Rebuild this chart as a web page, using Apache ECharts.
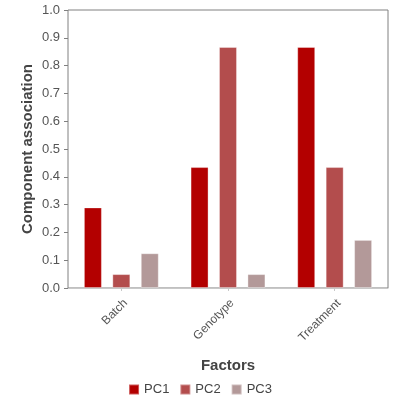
<!DOCTYPE html>
<html><head><meta charset="utf-8">
<script src="https://cdn.jsdelivr.net/npm/echarts@6/dist/echarts.min.js"></script>
<style>html,body{margin:0;padding:0;background:#fff}#c{width:400px;height:400px}</style>
</head><body><div id="c"></div>
<script>
const categories = ['Batch', 'Genotype', 'Treatment'];
const seriesNames = ['PC1', 'PC2', 'PC3'];
const pc1 = [0.29, 0.435, 0.867];
const pc2 = [0.05, 0.867, 0.435];
const pc3 = [0.125, 0.05, 0.173];
const colors = ['#b30000', '#b34d4d', '#b39999'];
const yTicks = [0, 0.1, 0.2, 0.3, 0.4, 0.5, 0.6, 0.7, 0.8, 0.9, 1.0];

const font = 'Liberation Sans, Arial, sans-serif';
const chart = echarts.init(document.getElementById('c'), null, {renderer: 'canvas'});
const values = [pc1, pc2, pc3];
chart.setOption({
  animation: false,
  textStyle: {fontFamily: font},
  color: colors,
  grid: {left: 68, right: 12, top: 10, bottom: 112, show: true, borderColor: '#808080', borderWidth: 1, containLabel: false},
  legend: {
    bottom: 4, left: 'center', padding: 0, itemWidth: 10, itemHeight: 10, itemGap: 10, icon: 'rect',
    textStyle: {fontSize: 13, color: '#444', fontFamily: font},
    data: seriesNames
  },
  xAxis: {
    type: 'category', data: categories, offset: 4,
    axisLine: {show: true, lineStyle: {color: '#c8c8c8', width: 1}},
    axisTick: {show: true, alignWithLabel: true, length: 3, lineStyle: {color: '#c8c8c8'}},
    axisLabel: {rotate: 45, fontSize: 12, color: '#555', margin: 5, fontFamily: font, verticalAlign: 'top'},
    name: 'Factors', nameLocation: 'middle', nameGap: 66, nameMoveOverlap: false,
    nameTextStyle: {fontSize: 15, fontWeight: 'bold', color: '#444', fontFamily: font}
  },
  yAxis: {
    type: 'value', min: 0, max: 1, interval: 0.1,
    axisLine: {show: false},
    axisTick: {show: true, length: 4, lineStyle: {color: '#808080'}},
    splitLine: {show: false},
    axisLabel: {fontSize: 13, color: '#555', margin: 8, fontFamily: font,
      formatter: v => { const t = yTicks.find(x => Math.abs(x - v) < 1e-9); return (t !== undefined ? t : v).toFixed(1); }},
    name: 'Component association', nameLocation: 'middle', nameGap: 33, nameMoveOverlap: false,
    nameTextStyle: {fontSize: 15, fontWeight: 'bold', color: '#444', fontFamily: font}
  },
  series: seriesNames.map((n, i) => ({
    name: n, type: 'bar', data: values[i], barWidth: 18, barGap: '58%',
    itemStyle: {color: colors[i], borderColor: 'rgba(255,255,255,0.35)', borderWidth: 1}
  }))
});
</script></body></html>
